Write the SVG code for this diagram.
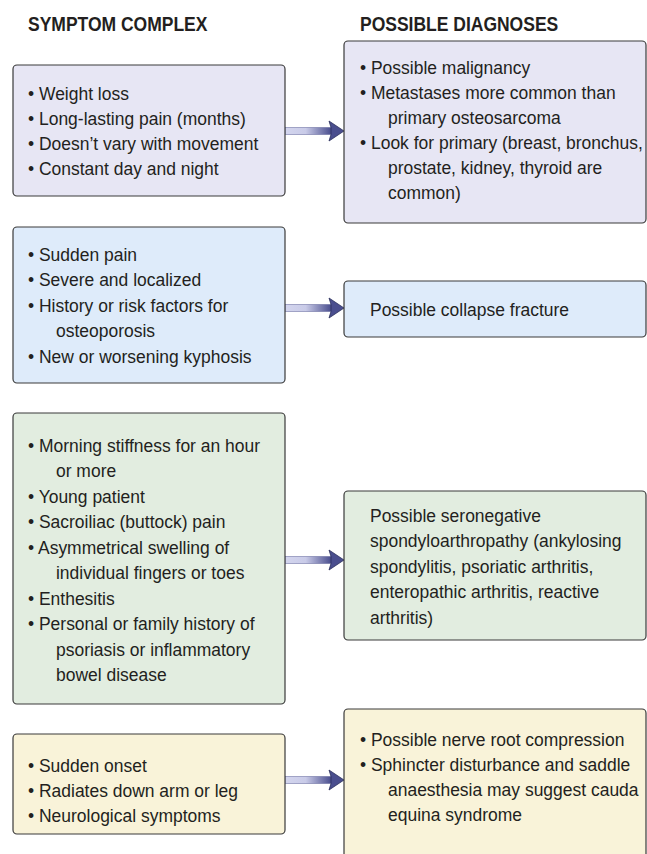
<svg xmlns="http://www.w3.org/2000/svg" width="647" height="854" viewBox="0 0 647 854">
<style>
.hdr{font-family:"Liberation Sans",Arial,sans-serif;font-weight:bold;font-size:20px;fill:#231f20}
.t{font-family:"Liberation Sans",Arial,sans-serif;font-size:18.5px;fill:#231f20}
.box{stroke:#3a3a3a;stroke-width:1.2}
.purple{fill:#e7e6f4}
.blue{fill:#deebfa}
.green{fill:#e2ede0}
.yellow{fill:#f9f3d9}
.head{fill:#4a4e8e;stroke:#2b2e5c;stroke-width:0.8}
</style>
<defs>
<linearGradient id="shaft" x1="0" y1="0" x2="1" y2="0">
<stop offset="0" stop-color="#d4d6ee"/>
<stop offset="0.45" stop-color="#c9cbe8"/>
<stop offset="1" stop-color="#4a4e8e"/>
</linearGradient>
<g id="arrow">
<rect x="0" y="-3.5" width="46" height="7" fill="url(#shaft)" stroke="#5a5e96" stroke-width="0.5"/>
<path class="head" d="M44,-10 L59,0 L44,10 L46,3.5 L46,-3.5 Z"/>
</g>
</defs>
<text class="hdr" transform="scale(0.875 1)" x="32" y="31">SYMPTOM COMPLEX</text>
<text class="hdr" transform="scale(0.875 1)" x="411.4" y="31">POSSIBLE DIAGNOSES</text>

<g id="connectors">
<use href="#arrow" x="285" y="131"/>
<use href="#arrow" x="285" y="308"/>
<use href="#arrow" x="285" y="560"/>
<use href="#arrow" x="285" y="780"/>
</g>

<g id="s1">
<rect class="box purple" x="13" y="65" width="272" height="131" rx="4"/>
<text class="t" transform="scale(0.945 1)"><tspan x="29.63" y="100">• Weight loss</tspan><tspan x="29.63" y="125">• Long-lasting pain (months)</tspan><tspan x="29.63" y="150">• Doesn’t vary with movement</tspan><tspan x="29.63" y="175">• Constant day and night</tspan></text>
</g>
<g id="d1">
<rect class="box purple" x="344" y="41" width="302" height="182" rx="4"/>
<text class="t" transform="scale(0.945 1)"><tspan x="380.95" y="74">• Possible malignancy</tspan><tspan x="380.95" y="99">• Metastases more common than</tspan><tspan x="410.58" y="124">primary osteosarcoma</tspan><tspan x="380.95" y="149">• Look for primary (breast, bronchus,</tspan><tspan x="410.58" y="174">prostate, kidney, thyroid are</tspan><tspan x="410.58" y="199">common)</tspan></text>
</g>

<g id="s2">
<rect class="box blue" x="13" y="227" width="272" height="156" rx="4"/>
<text class="t" transform="scale(0.945 1)"><tspan x="29.63" y="261">• Sudden pain</tspan><tspan x="29.63" y="286.5">• Severe and localized</tspan><tspan x="29.63" y="312">• History or risk factors for</tspan><tspan x="59.26" y="337.5">osteoporosis</tspan><tspan x="29.63" y="363">• New or worsening kyphosis</tspan></text>
</g>
<g id="d2">
<rect class="box blue" x="344" y="281" width="302" height="56" rx="4"/>
<text class="t" transform="scale(0.945 1)" x="391.53" y="316">Possible collapse fracture</text>
</g>

<g id="s3">
<rect class="box green" x="13" y="413" width="272" height="291" rx="4"/>
<text class="t" transform="scale(0.945 1)"><tspan x="29.63" y="452">• Morning stiffness for an hour</tspan><tspan x="59.26" y="477.5">or more</tspan><tspan x="29.63" y="503">• Young patient</tspan><tspan x="29.63" y="528.5">• Sacroiliac (buttock) pain</tspan><tspan x="29.63" y="554">• Asymmetrical swelling of</tspan><tspan x="59.26" y="579.5">individual fingers or toes</tspan><tspan x="29.63" y="605">• Enthesitis</tspan><tspan x="29.63" y="630.5">• Personal or family history of</tspan><tspan x="59.26" y="656">psoriasis or inflammatory</tspan><tspan x="59.26" y="681.5">bowel disease</tspan></text>
</g>
<g id="d3">
<rect class="box green" x="344" y="491" width="302" height="149" rx="4"/>
<text class="t" transform="scale(0.945 1)"><tspan x="391.53" y="522">Possible seronegative</tspan><tspan x="391.53" y="547.5">spondyloarthropathy (ankylosing</tspan><tspan x="391.53" y="573">spondylitis, psoriatic arthritis,</tspan><tspan x="391.53" y="598.5">enteropathic arthritis, reactive</tspan><tspan x="391.53" y="624">arthritis)</tspan></text>
</g>

<g id="s4">
<rect class="box yellow" x="13" y="734" width="272" height="100" rx="4"/>
<text class="t" transform="scale(0.945 1)"><tspan x="29.63" y="772">• Sudden onset</tspan><tspan x="29.63" y="797">• Radiates down arm or leg</tspan><tspan x="29.63" y="822">• Neurological symptoms</tspan></text>
</g>
<g id="d4">
<path class="box yellow" d="M344,858 V713 a4,4 0 0 1 4,-4 H642 a4,4 0 0 1 4,4 V858"/>
<text class="t" transform="scale(0.945 1)"><tspan x="380.95" y="746">• Possible nerve root compression</tspan><tspan x="380.95" y="771">• Sphincter disturbance and saddle</tspan><tspan x="410.58" y="796">anaesthesia may suggest cauda</tspan><tspan x="410.58" y="821">equina syndrome</tspan></text>
</g>
</svg>
